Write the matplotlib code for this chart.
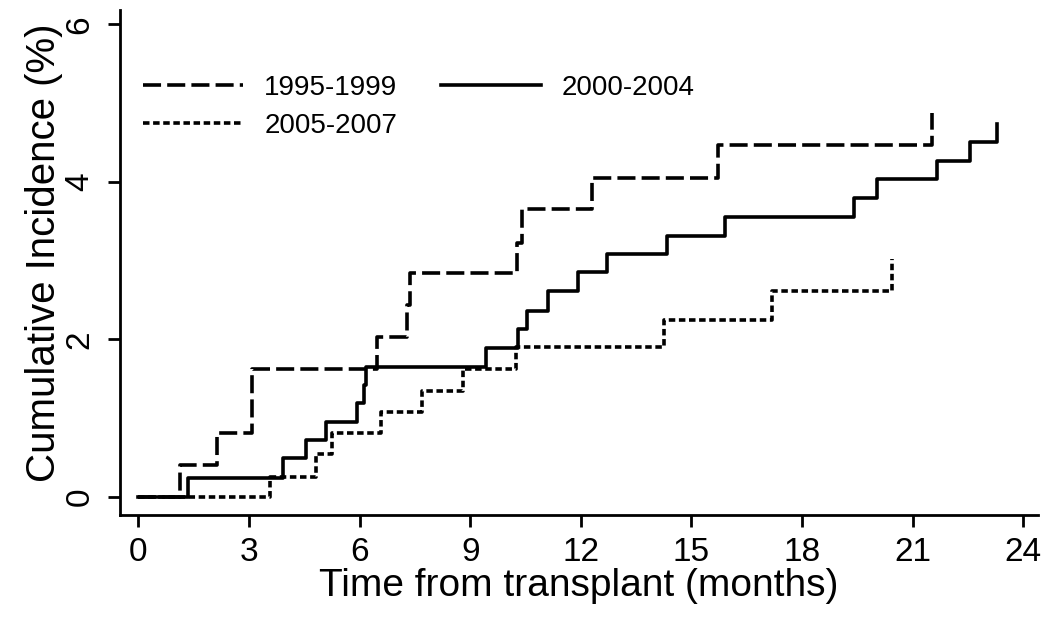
import matplotlib
matplotlib.use("Agg")
import matplotlib.pyplot as plt

# ---- data ----
t_1995 = [0, 1.13, 2.12, 3.07, 6.46, 7.29, 7.36, 10.26, 10.40, 12.30, 15.73, 21.52]
v_1995 = [0, 0.41, 0.81, 1.62, 2.03, 2.44, 2.84, 3.23, 3.65, 4.05, 4.47, 4.87]

t_2000 = [0, 1.34, 3.93, 4.54, 5.09, 5.92, 6.13, 6.17, 9.43, 10.30, 10.53, 11.12,
          11.92, 12.71, 14.33, 15.92, 19.42, 20.03, 21.66, 22.55, 23.29]
v_2000 = [0, 0.245, 0.49, 0.72, 0.95, 1.19, 1.42, 1.65, 1.89, 2.13, 2.36, 2.61,
          2.85, 3.08, 3.31, 3.55, 3.79, 4.03, 4.27, 4.51, 4.74]

t_2005 = [0, 3.57, 4.82, 5.25, 6.57, 7.69, 8.80, 10.24, 14.26, 17.19, 20.44]
v_2005 = [0, 0.26, 0.55, 0.81, 1.08, 1.35, 1.62, 1.91, 2.25, 2.61, 3.02]

labels = ["1995-1999", "2000-2004", "2005-2007"]
x_ticks = [0, 3, 6, 9, 12, 15, 18, 21, 24]
y_ticks = [0, 2, 4, 6]

plt.rcParams['font.family'] = ['Liberation Sans', 'DejaVu Sans']

fig = plt.figure(figsize=(10.5, 6.29), dpi=100)
ax = fig.add_axes([0.1143, 0.1812, 0.8743, 0.8028])

lw = 2.6
ax.step(t_1995, v_1995, where='post', color='black', lw=lw,
        dashes=(5.0, 1.7), label=labels[0])
ax.step(t_2000, v_2000, where='post', color='black', lw=lw,
        linestyle='-', label=labels[1])
ax.step(t_2005, v_2005, where='post', color='black', lw=lw,
        dashes=(1.8, 1.0), label=labels[2])

ax.set_xlim(-0.5, 24.4)
ax.set_ylim(-0.228, 6.18)
ax.set_xticks(x_ticks)
ax.set_yticks(y_ticks)
ax.set_yticklabels([str(v) for v in y_ticks], rotation=90, va='center')

for s in ['top', 'right']:
    ax.spines[s].set_visible(False)
for s in ['left', 'bottom']:
    ax.spines[s].set_linewidth(2.0)

ax.tick_params(axis='both', length=8.5, width=2.0, labelsize=24)
ax.tick_params(axis='x', pad=7)
ax.tick_params(axis='y', pad=9)

ax.set_xlabel("Time from transplant (months)", fontsize=28)
ax.set_ylabel("Cumulative Incidence (%)", fontsize=29)
ax.xaxis.set_label_coords(0.5, -0.105)
ax.yaxis.set_label_coords(-0.062, 0.52)

h, l = ax.get_legend_handles_labels()
order = [0, 2, 1]
leg = ax.legend([h[i] for i in order], [l[i] for i in order], ncol=2,
                loc='upper left', bbox_to_anchor=(0.0255, 0.872),
                frameon=False, fontsize=20, handlelength=3.6,
                handletextpad=0.75, columnspacing=1.55, labelspacing=0.45,
                borderpad=0, borderaxespad=0)

fig.savefig("out.png", dpi=100, facecolor='white')
